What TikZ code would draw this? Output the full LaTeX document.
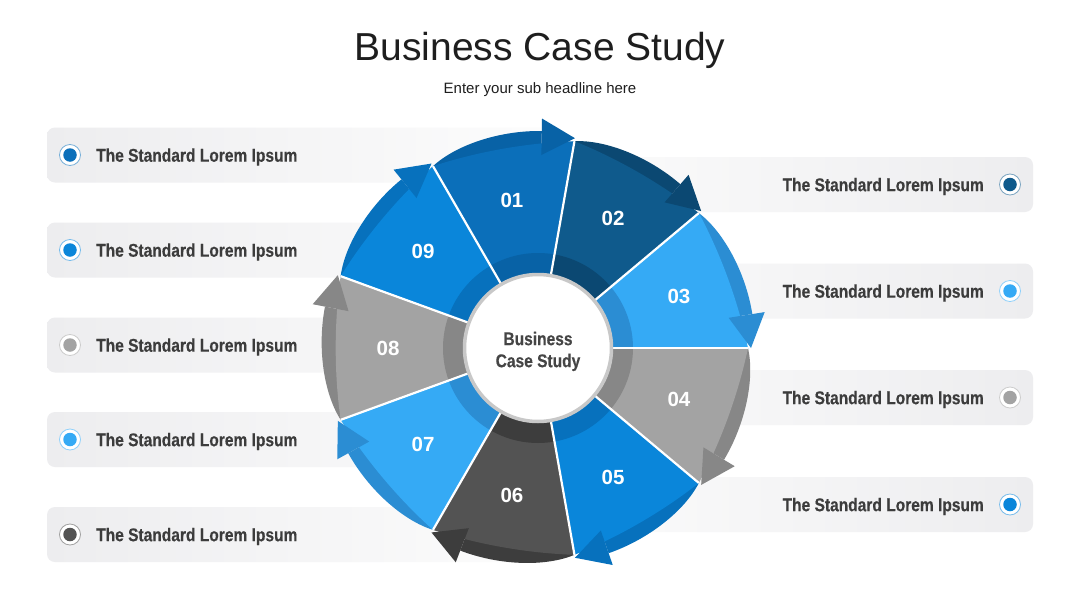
\documentclass[tikz,border=0pt]{standalone}
\usepackage{fontspec}
\setmainfont{Liberation Sans}
\newfontfamily\condfont[FakeStretch=0.84,FakeBold=0.35]{Liberation Sans}
\definecolor{seg01}{HTML}{0B6FBA}\definecolor{arr01}{HTML}{0862A6}
\definecolor{seg02}{HTML}{0F5A8C}\definecolor{arr02}{HTML}{0B4872}
\definecolor{seg03}{HTML}{35AAF5}\definecolor{arr03}{HTML}{2B8DD3}
\definecolor{seg04}{HTML}{A3A3A3}\definecolor{arr04}{HTML}{878787}
\definecolor{seg05}{HTML}{0A86DA}\definecolor{arr05}{HTML}{0771BD}
\definecolor{seg06}{HTML}{535353}\definecolor{arr06}{HTML}{3D3D3D}
\definecolor{seg07}{HTML}{35AAF5}\definecolor{arr07}{HTML}{2B8DD3}
\definecolor{seg08}{HTML}{A3A3A3}\definecolor{arr08}{HTML}{878787}
\definecolor{seg09}{HTML}{0A86DA}\definecolor{arr09}{HTML}{0771BD}
\definecolor{titlec}{HTML}{1E1E1E}
\definecolor{txtc}{HTML}{3C3C3C}
\definecolor{ctrtxt}{HTML}{454545}
\definecolor{boxg}{HTML}{EDEDEF}
\definecolor{boxw}{HTML}{FDFDFD}
\definecolor{ringgray}{HTML}{C8C8C8}
\tikzset{
  lbltext/.style={font=\condfont\bfseries\fontsize{18.5}{22}\selectfont, text=txtc, inner sep=0pt},
  numtext/.style={font=\bfseries\fontsize{20.5}{24}\selectfont, text=white, inner sep=0pt},
  boxleft/.style={rounded corners=8pt, left color=boxg, right color=boxw},
  boxright/.style={rounded corners=8pt, left color=boxw, right color=boxg},
  bulring/.style={circle, draw=#1!55, line width=0.8pt, fill=white, minimum size=21pt, inner sep=0pt},
  buldot/.style={circle, fill=#1, minimum size=13.5pt, inner sep=0pt},
  sepline/.style={white, line width=2.2pt},
}
\begin{document}
\begin{tikzpicture}[x=1pt,y=1pt]
\useasboundingbox[fill=white] (0,0) rectangle (1080,-608);
% titles
\node[font=\fontsize{39}{44}\selectfont, text=titlec, anchor=base, inner sep=0pt] (title) at (540,-60) {Business Case Study};
\node[font=\fontsize{15}{18}\selectfont, text=titlec, anchor=base, inner sep=0pt] (subtitle) at (540,-93.5) {Enter your sub headline here};
% left boxes
\foreach \y/\col/\k in {155/seg01/1,250/seg09/2,345/seg08/3,439.5/seg07/4,534.5/seg06/5}{
  \shade[boxleft] (47,{-\y+27.5}) rectangle (560,{-\y-27.5});
  \node[bulring=\col] (bl\k) at (70,-\y) {};
  \node[buldot=\col] (bd\k) at (bl\k) {};
  \node[lbltext, anchor=base west] (lt\k) at (96,{-\y-6.7}) {The Standard Lorem Ipsum};
}
% right boxes
\foreach \y/\col/\k in {184.5/seg02/6,291/seg03/7,397.5/seg04/8,504.5/seg05/9}{
  \shade[boxright] (520,{-\y+27.5}) rectangle (1033,{-\y-27.5});
  \node[bulring=\col] (bl\k) at (1010,-\y) {};
  \node[buldot=\col] (bd\k) at (bl\k) {};
  \node[lbltext, anchor=base east] (lt\k) at (984,{-\y-6.7}) {The Standard Lorem Ipsum};
}
% wheel
\begin{scope}[shift={(538,-348)}]
  % arrow bodies
  \foreach \s/\n in {120/01,80/02,40/03,0/04,-40/05,-80/06,-120/07,-160/08,160/09}{
    \fill[arr\n] (\s:210) .. controls ({\s-8}:219) and ({\s-20}:221) .. ({\s-31}:217)
      -- ({\s-31}:190) .. controls ({\s-20}:190) and ({\s-8}:196) .. (\s:200) -- cycle;
  }
  % segments
  \foreach \s/\n in {120/01,80/02,40/03,0/04,-40/05,-80/06,-120/07,-160/08,160/09}{
    \fill[seg\n] (0,0) -- (\s:210) .. controls ({\s-13}:205.5) and ({\s-27}:205.5) .. ({\s-40}:210) -- cycle;
  }
  % arrow heads and inner ring
  \foreach \s/\n in {120/01,80/02,40/03,0/04,-40/05,-80/06,-120/07,-160/08,160/09}{
    \fill[arr\n] ({\s-31}:229.5) -- ({\s-40}:213) -- ({\s-31}:193) -- cycle;
    \fill[arr\n] (\s:95) arc[start angle=\s, end angle={\s-40}, radius=95]
      -- ({\s-40}:75) arc[start angle={\s-40}, end angle=\s, radius=75] -- cycle;
  }
  % separators
  \foreach \a in {0,40,...,320}{
    \draw[sepline] (\a:74) -- (\a:210);
  }
  % numbers
  \foreach \s/\n in {120/01,80/02,40/03,0/04,-40/05,-80/06,-120/07,-160/08,160/09}{
    \node[numtext] (n\n) at ({\s-20}:150) {\n};
  }
  % centre
  \node[circle, fill=white, draw=ringgray, line width=3.5pt, minimum size=147pt, inner sep=0pt] (ctr) at (0,0) {};
  \node[font=\condfont\bfseries\fontsize{18.5}{22}\selectfont, text=ctrtxt, align=center, inner sep=0pt] (ctrtext) at (0,-3.4) {Business\\Case Study};
\end{scope}
\end{tikzpicture}
\end{document}
